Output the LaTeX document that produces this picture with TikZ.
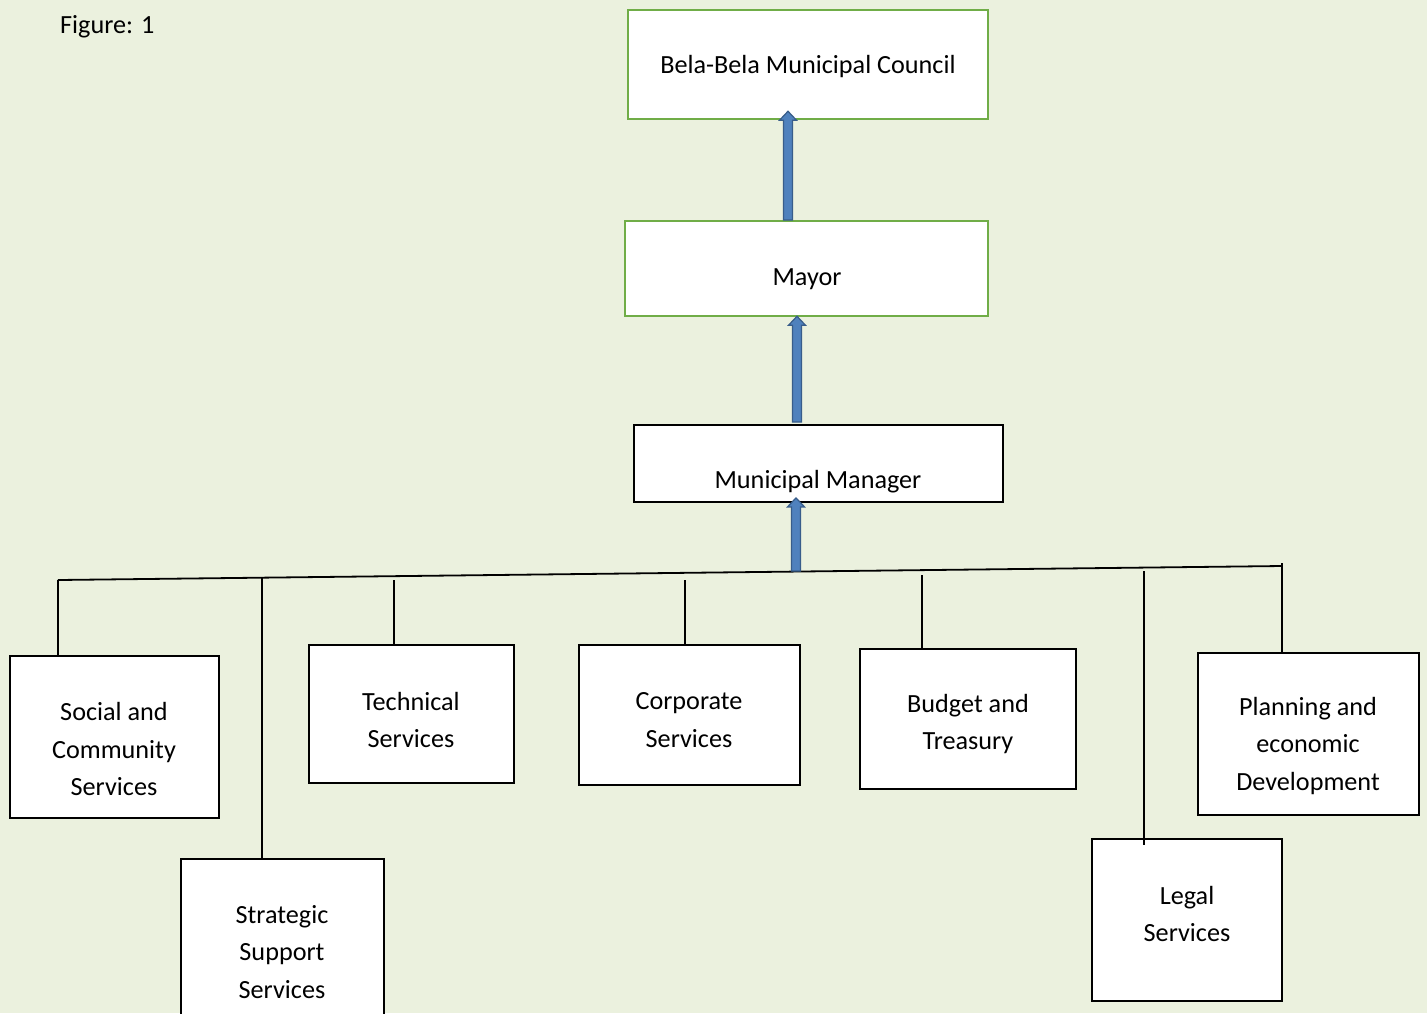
\documentclass[tikz,border=0pt]{standalone}
\usepackage{fontspec}
\setmainfont{Carlito}
\usetikzlibrary{calc}
\definecolor{bgc}{RGB}{235,241,222}
\definecolor{grn}{RGB}{112,173,71}
\definecolor{bfill}{RGB}{79,129,189}
\definecolor{bline}{RGB}{56,93,138}
\tikzset{
  gbox/.style={draw=grn, line width=2.5pt, fill=white, inner sep=0pt},
  kbox/.style={draw=black, line width=1.8pt, fill=white, inner sep=0pt},
  lbl/.style={align=center, inner sep=0pt, font=\fontsize{26.2}{37.5}\selectfont},
  wire/.style={draw=black, line width=1.8pt},
  barrow/.style={fill=bfill, draw=bline, line width=1.2pt, line join=miter}
}
\newcommand\blockarr[3]{%
  \draw[barrow] let \p1=(#1), \p2=(#2) in
    (\x1-4.5pt,\y1) -- (\x1-4.5pt,\y2+#3-9pt) -- (\x1-8.5pt,\y2+#3-9pt) -- (\x1,\y2+#3)
    -- (\x1+8.5pt,\y2+#3-9pt) -- (\x1+4.5pt,\y2+#3-9pt) -- (\x1+4.5pt,\y1) -- cycle;}
\begin{document}
\begin{tikzpicture}[x=1pt,y=-1pt]
\useasboundingbox[fill=bgc] (0,0) rectangle (1427,1013);
\node[lbl, anchor=west] (fig) at (60,27) {Figure: 1};
% top boxes
\node[gbox, minimum width=360pt, minimum height=109pt] (council) at (808,64.5) {};
\node[lbl] (councilt) at (808,67) {Bela-Bela Municipal Council};
\node[gbox, minimum width=363pt, minimum height=95pt] (mayor) at (806.5,268.5) {};
\node[lbl] (mayort) at (807,279) {Mayor};
\node[kbox, minimum width=369pt, minimum height=77pt] (mm) at (818.5,463.5) {};
\node[lbl] (mmt) at (818,482) {Municipal Manager};
% department boxes
\node[kbox, minimum width=209pt, minimum height=162pt] (social) at (114.5,737) {};
\node[lbl] (socialt) at (114,749) {Social and\\Community\\Services};
\node[kbox, minimum width=205pt, minimum height=138pt] (tech) at (411.5,714) {};
\node[lbl] (techt) at (411,720) {Technical\\Services};
\node[kbox, minimum width=221pt, minimum height=140pt] (corp) at (689.5,715) {};
\node[lbl] (corpt) at (689,720) {Corporate\\Services};
\node[kbox, minimum width=216pt, minimum height=140pt] (budget) at (968,719) {};
\node[lbl] (budgett) at (968,724) {Budget and\\Treasury};
\node[kbox, minimum width=221pt, minimum height=162pt] (plan) at (1308.5,734) {};
\node[lbl] (plant) at (1308,746) {Planning and\\economic\\Development};
\node[kbox, minimum width=203pt, minimum height=170pt] (strat) at (282.5,944) {};
\node[lbl] (stratt) at (282,952) {Strategic\\Support\\Services};
\node[kbox, minimum width=190pt, minimum height=162pt] (legal) at (1187,920) {};
\node[lbl] (legalt) at (1187,914) {Legal\\Services};
% bus line
\coordinate (busL) at (58,580);
\coordinate (busR) at (1282,566);
\draw[wire] (busL) -- (busR);
\draw[wire] (busL) -- (social.north -| busL);
\draw[wire] (262,578) -- (strat.north -| 262,0);
\draw[wire] (394,580) -- (tech.north -| 394,0);
\draw[wire] (685,580) -- (corp.north -| 685,0);
\draw[wire] (922,575) -- (budget.north -| 922,0);
\draw[wire] (1144,571) -- (1144,845);
\draw[wire] (1282,563) -- (plan.north -| 1282,0);
% block arrows
\coordinate (a3b) at (796,571);
\blockarr{a3b}{mm.south -| a3b}{5pt}
\coordinate (a2b) at (797,422);
\blockarr{a2b}{mayor.south -| a2b}{1pt}
\coordinate (a1b) at (788,220);
\blockarr{a1b}{council.south -| a1b}{9pt}
\end{tikzpicture}
\end{document}
